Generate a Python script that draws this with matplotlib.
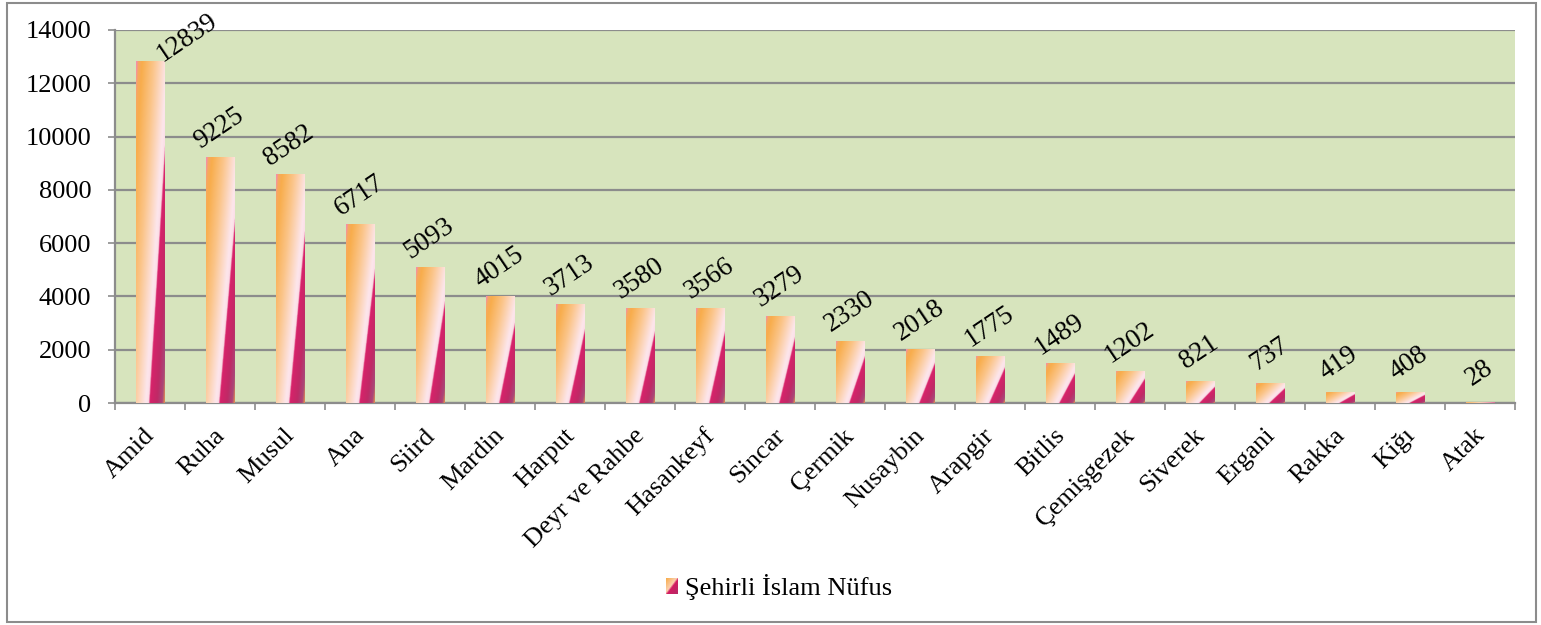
import numpy as np
import matplotlib
matplotlib.use('Agg')
import matplotlib.pyplot as plt
from matplotlib.colors import LinearSegmentedColormap
from matplotlib.patches import Rectangle, Patch
from matplotlib.legend_handler import HandlerBase
from matplotlib.image import BboxImage
from matplotlib.transforms import Bbox, TransformedBbox, offset_copy

plt.rcParams['font.family'] = ['Liberation Serif', 'DejaVu Serif']

cities = ['Amid', 'Ruha', 'Musul', 'Ana', 'Siird', 'Mardin', 'Harput', 'Deyr ve Rahbe',
          'Hasankeyf', 'Sincar', 'Çermik', 'Nusaybin', 'Arapgir', 'Bitlis', 'Çemişgezek',
          'Siverek', 'Ergani', 'Rakka', 'Kiğı', 'Atak']
nufus = [12839, 9225, 8582, 6717, 5093, 4015, 3713, 3580, 3566, 3279,
         2330, 2018, 1775, 1489, 1202, 821, 737, 419, 408, 28]
series_name = 'Şehirli İslam Nüfus'
yticks = [0, 2000, 4000, 6000, 8000, 10000, 12000, 14000]

grid_col = '#8c8c8c'
bar_cmap = LinearSegmentedColormap.from_list('bar', [
    (0.00, '#f48cb4'), (0.05, '#f7a860'), (0.12, '#f8ad4c'), (0.35, '#fbc58a'),
    (0.62, '#fde6ec'), (0.68, '#fbdde6'), (0.70, '#d8226a'), (0.85, '#bf2a66'),
    (0.95, '#a8487a'), (1.00, '#e39050')])

# diagonal gradient in bar-normalised coords
k = 0.74
uu, vv = np.meshgrid(np.linspace(0, 1, 60), np.linspace(0, 1, 200))
grad = (uu - k * vv + k) / (1 + k)

fig = plt.figure(figsize=(15.41, 6.25), dpi=100)
ax = fig.add_axes([115 / 1541, 222 / 625, 1400 / 1541, 373 / 625])
ax.set_facecolor('#d7e4bd')

bw = 0.41
for i, v in enumerate(nufus):
    x0 = i + 0.5 - bw / 2
    rect = Rectangle((x0, 0), bw, v, facecolor='none', edgecolor='none', zorder=3)
    ax.add_patch(rect)
    im = ax.imshow(grad, cmap=bar_cmap, vmin=0, vmax=1, origin='lower',
                   extent=[x0, x0 + bw, 0, v], aspect='auto', zorder=3,
                   interpolation='bilinear')
    im.set_clip_path(rect)
    # value label
    off = (2, 17)
    if v > 0.85 * 14000:
        off = (29, 13)
    ax.annotate(str(v), (i + 0.5, v), xytext=off, textcoords='offset points',
                rotation=34, rotation_mode='anchor', ha='center', va='baseline',
                fontsize=19.5, zorder=5)

ax.set_aspect('auto')
ax.set_xlim(0, len(cities))
ax.set_ylim(0, 14000)

ax.set_yticks(yticks)
ax.set_yticklabels([str(t) for t in yticks], fontsize=19)
ax.yaxis.grid(True, color=grid_col, linewidth=1.6)
ax.set_axisbelow(True)
ax.tick_params(axis='y', length=5, width=1.2, color=grid_col, pad=12)

ax.set_xticks(np.arange(len(cities) + 1))
ax.set_xticklabels([])
ax.tick_params(axis='x', length=5, width=1.2, color=grid_col)
lab_tr = offset_copy(ax.get_xaxis_transform(), fig=fig, x=4, y=-24, units='points')
for i, c in enumerate(cities):
    ax.text(i + 0.5, 0, c, transform=lab_tr, rotation=45, rotation_mode='anchor',
            ha='right', va='baseline', fontsize=19)

for s in ['top', 'right']:
    ax.spines[s].set_visible(False)
for s in ['left', 'bottom']:
    ax.spines[s].set_color(grid_col)
    ax.spines[s].set_linewidth(1.6)

# legend with a gradient swatch (row 0 = top)
lin = np.linspace(0, 1, 20)
leg_grad = (lin[None, :] + lin[:, None]) / 2
leg_cmap = LinearSegmentedColormap.from_list('leg', [
    (0.0, '#f8ad4c'), (0.45, '#fbd0b0'), (0.55, '#d21c62'), (1.0, '#b82a66')])


class GradHandler(HandlerBase):
    def create_artists(self, legend, orig_handle, xdescent, ydescent, width, height,
                       fontsize, trans):
        bb = TransformedBbox(Bbox.from_bounds(-xdescent, -ydescent, width, height), trans)
        img = BboxImage(bb, cmap=leg_cmap, interpolation='bilinear')
        img.set_data(leg_grad)
        img.set_clim(0, 1)
        return [img]


h = Patch(facecolor='#f8ad4c')
fig.legend([h], [series_name], loc='center', bbox_to_anchor=(779 / 1541, 1 - 587 / 625),
           frameon=False, fontsize=19, handlelength=0.45, handleheight=0.55,
           handletextpad=0.3, handler_map={Patch: GradHandler()})

fig.patches.append(Rectangle((7 / 1541, 3 / 625), 1529 / 1541, 619 / 625,
                             transform=fig.transFigure, fill=False,
                             edgecolor='#8c8c8c', linewidth=1.5))

fig.savefig('out.png', dpi=100)
